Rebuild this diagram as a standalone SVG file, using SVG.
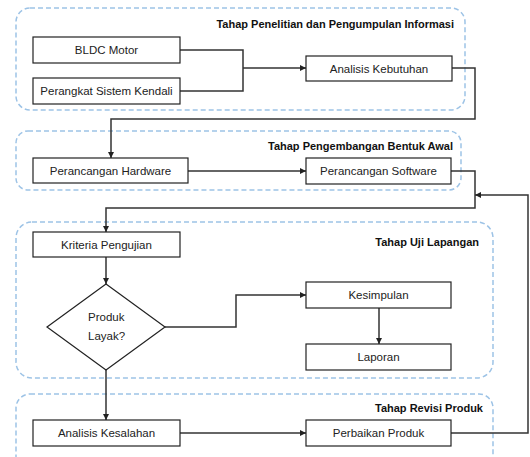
<svg xmlns="http://www.w3.org/2000/svg" width="530" height="457" viewBox="0 0 530 457">
<defs>
<marker id="ah" viewBox="0 0 10 10" refX="10" refY="5" markerWidth="6" markerHeight="6" orient="auto" markerUnits="userSpaceOnUse">
<path d="M0,0 L10,5 L0,10 z" fill="#222"/>
</marker>
<style>
.grp{fill:none;stroke:#9dc3e6;stroke-width:1.5;stroke-dasharray:5,3}
.box{fill:#fff;stroke:#222;stroke-width:1.2}
.t{font-family:"Liberation Sans",Arial,sans-serif;font-size:11.5px;fill:#222;text-anchor:middle}
.h{font-family:"Liberation Sans",Arial,sans-serif;font-size:11px;font-weight:bold;fill:#111;text-anchor:end}
.c{fill:none;stroke:#333;stroke-width:1.5}
</style>
</defs>
<rect width="530" height="457" fill="#fff"/>
<g id="stages">
<rect class="grp" x="16" y="8" width="449" height="102" rx="14"/>
<text class="h" x="454" y="28">Tahap Penelitian dan Pengumpulan Informasi</text>
<rect class="grp" x="16" y="131" width="445" height="59" rx="12"/>
<text class="h" x="453" y="150">Tahap Pengembangan Bentuk Awal</text>
<rect class="grp" x="16" y="222" width="477" height="156" rx="16"/>
<text class="h" x="479" y="246">Tahap Uji Lapangan</text>
<rect class="grp" x="16" y="394" width="477" height="80" rx="14"/>
<text class="h" x="483" y="412">Tahap Revisi Produk</text>
</g>
<g id="connectors">
<polyline class="c" points="180,50 243,50 243,91 180,91"/>
<line class="c" x1="243" y1="68" x2="306" y2="68" marker-end="url(#ah)"/>
<polyline class="c" points="452,68 475,68 475,119 111,119 111,158" marker-end="url(#ah)"/>
<line class="c" x1="188" y1="171" x2="306" y2="171" marker-end="url(#ah)"/>
<polyline class="c" points="451,171 475,171 475,208 106,208 106,232" marker-end="url(#ah)"/>
<line class="c" x1="106" y1="257" x2="106" y2="284" marker-end="url(#ah)"/>
<polyline class="c" points="165,327 236,327 236,295 306,295" marker-end="url(#ah)"/>
<line class="c" x1="379" y1="308" x2="379" y2="344" marker-end="url(#ah)"/>
<line class="c" x1="106" y1="370" x2="106" y2="420" marker-end="url(#ah)"/>
<line class="c" x1="180" y1="433" x2="306" y2="433" marker-end="url(#ah)"/>
<polyline class="c" points="451,433 528,433 528,195 475,195" marker-end="url(#ah)"/>
</g>
<g id="bldc"><rect class="box" x="33" y="37" width="147" height="26"/><text class="t" x="106.5" y="54">BLDC Motor</text></g>
<g id="perangkat"><rect class="box" x="33" y="78" width="147" height="26"/><text class="t" x="106.5" y="95">Perangkat Sistem Kendali</text></g>
<g id="analisis-kebutuhan"><rect class="box" x="306" y="56" width="146" height="25"/><text class="t" x="379" y="72.5">Analisis Kebutuhan</text></g>
<g id="hardware"><rect class="box" x="33" y="158" width="155" height="25"/><text class="t" x="110.5" y="175">Perancangan Hardware</text></g>
<g id="software"><rect class="box" x="306" y="158" width="145" height="26"/><text class="t" x="378.5" y="175">Perancangan Software</text></g>
<g id="kriteria"><rect class="box" x="33" y="232" width="147" height="25"/><text class="t" x="106.5" y="249">Kriteria Pengujian</text></g>
<g id="layak"><polygon class="box" points="106,284 165,327 106,370 47,327"/><text class="t" x="88" y="321" style="text-anchor:start">Produk</text><text class="t" x="88" y="340" style="text-anchor:start">Layak?</text></g>
<g id="kesimpulan"><rect class="box" x="306" y="282" width="145" height="26"/><text class="t" x="378.5" y="299">Kesimpulan</text></g>
<g id="laporan"><rect class="box" x="306" y="344" width="145" height="26"/><text class="t" x="378.5" y="361">Laporan</text></g>
<g id="analisis-kesalahan"><rect class="box" x="33" y="420" width="147" height="26"/><text class="t" x="106.5" y="437">Analisis Kesalahan</text></g>
<g id="perbaikan"><rect class="box" x="306" y="420" width="145" height="26"/><text class="t" x="378.5" y="437">Perbaikan Produk</text></g>
</svg>
